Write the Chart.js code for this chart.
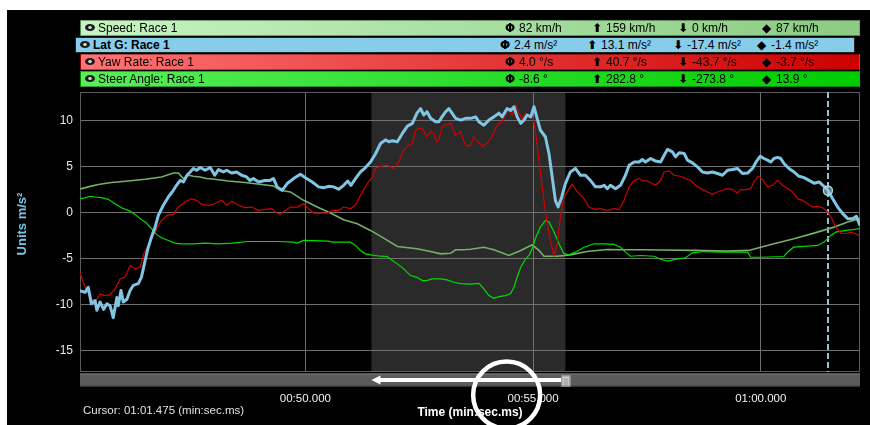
<!DOCTYPE html>
<html>
<head>
<meta charset="utf-8">
<script src="https://cdn.jsdelivr.net/npm/chart.js@4.4.1/dist/chart.umd.min.js"></script>
<style>
  html, body { margin: 0; padding: 0; background: #fff; }
  #wrap { position: relative; width: 870px; height: 425px; overflow: hidden; }
  #panel { position: absolute; left: 7px; top: 10px; width: 863px; height: 415px; background: #000; }
  #chart { position: absolute; left: 0; top: 0; }
  .row { position: absolute; height: 16px; box-sizing: border-box; border: 1px solid rgba(0,0,0,0.35);
         font: 12px "Liberation Sans", Arial, sans-serif; line-height: 14px;
         color: #000; white-space: nowrap; z-index: 2; }
  .row .eye { position: absolute; left: 4px; top: 3px; width: 10px; height: 7px; border-radius: 50%;
              background: radial-gradient(circle, #cfcfcf 0 1.4px, #1c1c1c 2px); }
  .row .name { position: absolute; left: 17px; top: 0; }
  .row .st { position: absolute; top: 0; }
  .row .ic { display: inline-block; width: 14px; font-family: "DejaVu Sans", sans-serif; font-size: 12px; font-weight: bold; }
  #cursorText { position: absolute; left: 83px; top: 404px; color: #e0e0e0; z-index: 2;
                font: 11.5px "Liberation Sans", Arial, sans-serif; }
</style>
</head>
<body>
<div id="wrap">
  <div id="panel"></div>
  <canvas id="chart" width="870" height="425"></canvas>
  <div id="legend"></div>
  <div id="cursorText"></div>
</div>
<script>
// ---- channel list and lap statistics ----
const seriesNames = ['Speed: Race 1', 'Lat G: Race 1', 'Yaw Rate: Race 1', 'Steer Angle: Race 1'];
const cursorStats = ['82 km/h', '2.4 m/s\u00b2', '4.0 \u00b0/s', '-8.6 \u00b0'];
const maxStats    = ['159 km/h', '13.1 m/s\u00b2', '40.7 \u00b0/s', '282.8 \u00b0'];
const minStats    = ['0 km/h', '-17.4 m/s\u00b2', '-43.7 \u00b0/s', '-273.8 \u00b0'];
const avgStats    = ['87 km/h', '-1.4 m/s\u00b2', '-3.7 \u00b0/s', '13.9 \u00b0'];

// ---- axis ticks (seconds / m/s²) ----
const xTickValues = [50, 55, 60];
const yTickValues = [-15, -10, -5, 0, 5, 10];

// ---- cursor and selected range (seconds) ----
const cursorTime = 61.475;
const cursorLatG = 2.4;
const rangeStart = 51.45;
const rangeEnd = 55.71;

// ---- Lat G trace ----
const latGTime = [45.04,45.16,45.23,45.30,45.38,45.42,45.49,45.57,45.64,45.71,45.78,45.86,45.89,45.95,46.00,46.08,46.15,46.22,46.33,46.40,46.48,46.55,46.62,46.70,46.77,46.88,46.99,47.10,47.17,47.25,47.32,47.40,47.47,47.54,47.61,47.69,47.80,47.91,48.01,48.09,48.20,48.27,48.38,48.49,48.60,48.71,48.78,48.86,48.97,49.11,49.22,49.30,49.38,49.49,49.60,49.74,49.89,50.00,50.15,50.29,50.40,50.51,50.62,50.73,50.84,50.93,51.00,51.10,51.21,51.32,51.43,51.54,51.65,51.76,51.83,51.91,52.02,52.13,52.24,52.35,52.45,52.53,52.60,52.67,52.75,52.86,52.93,53.00,53.08,53.15,53.22,53.30,53.41,53.52,53.63,53.74,53.81,53.92,54.03,54.14,54.25,54.32,54.43,54.51,54.58,54.65,54.73,54.80,54.87,54.95,55.02,55.10,55.16,55.27,55.35,55.42,55.49,55.55,55.63,55.71,55.82,55.93,56.04,56.15,56.26,56.37,56.48,56.56,56.63,56.70,56.81,56.92,57.03,57.11,57.22,57.33,57.40,57.47,57.58,57.69,57.80,57.88,57.95,58.06,58.13,58.21,58.32,58.39,58.50,58.61,58.72,58.83,58.94,59.05,59.16,59.27,59.38,59.49,59.60,59.71,59.82,59.91,59.99,60.07,60.15,60.22,60.29,60.37,60.44,60.51,60.62,60.73,60.84,60.95,61.06,61.17,61.28,61.39,61.475,61.58,61.69,61.80,61.91,62.02,62.10,62.18];
const latGValues = [-8.46,-8.65,-8.1,-9.9,-9.55,-10.6,-9.7,-10.5,-9.9,-10.1,-11.4,-9.2,-10.1,-8.46,-9.7,-9.4,-8.46,-7.9,-7.7,-7.0,-5.2,-3.75,-2.65,-1.57,-0.3,0.8,1.7,2.43,2.97,3.5,3.33,4.06,4.42,4.8,4.6,4.9,4.6,4.9,4.06,4.68,4.42,4.6,4.3,4.42,4.06,3.88,3.5,3.7,3.33,3.5,3.5,3.7,2.8,2.43,3.16,3.7,4.17,3.8,3.33,2.8,2.7,2.86,2.8,2.54,2.97,3.44,2.97,3.7,4.42,4.9,5.5,6.4,7.5,7.9,7.7,7.8,7.7,8.6,9.4,9.7,10.8,11.3,10.6,10.96,10.24,9.87,9.87,10.4,10.96,11.3,10.8,10.24,10.05,10.24,10.24,10.4,9.87,9.5,10.05,10.4,10.8,10.4,11.3,11.1,11.5,10.4,9.7,10.05,10.6,10.4,11.5,10.05,8.97,8.24,6.4,3.88,1.34,0.61,1.7,3.16,4.42,4.8,4.06,4.06,3.5,2.8,2.8,2.97,2.6,2.97,2.6,2.97,4.06,5.15,5.5,5.5,5.77,5.5,5.88,5.6,5.5,6.24,6.86,6.6,6.06,6.5,6.42,5.7,5.4,4.97,4.42,4.31,4.42,4.25,4.06,4.6,4.68,4.8,4.25,4.3,4.8,5.6,6.13,5.88,5.7,5.5,5.88,6.0,5.88,5.34,4.8,4.42,3.95,3.8,3.5,3.2,3.33,2.86,2.4,1.52,0.61,-0.1,-0.65,-0.65,-0.4,-1.38];

// ---- Yaw Rate trace ----
const yawTime = [45.04,45.11,45.19,45.30,45.38,45.49,45.60,45.71,45.82,45.93,46.04,46.15,46.26,46.37,46.45,46.55,46.66,46.81,46.96,47.10,47.21,47.36,47.50,47.61,47.72,47.87,48.01,48.16,48.27,48.38,48.53,48.67,48.82,48.97,49.11,49.26,49.34,49.45,49.56,49.67,49.82,49.96,50.07,50.18,50.33,50.48,50.59,50.73,50.84,50.99,51.10,51.21,51.36,51.47,51.54,51.65,51.80,51.94,52.05,52.16,52.27,52.35,52.42,52.49,52.57,52.66,52.75,52.82,52.88,52.93,53.00,53.08,53.19,53.30,53.41,53.48,53.55,53.63,53.70,53.77,53.88,53.99,54.10,54.18,54.25,54.32,54.40,54.47,54.54,54.62,54.69,54.76,54.84,54.91,54.98,55.05,55.13,55.21,55.30,55.38,55.46,55.53,55.60,55.67,55.77,55.86,55.97,56.12,56.23,56.34,56.48,56.63,56.78,56.89,57.00,57.11,57.22,57.33,57.40,57.51,57.62,57.69,57.80,57.88,57.99,58.09,58.24,58.35,58.46,58.57,58.68,58.83,58.94,59.05,59.16,59.27,59.38,59.48,59.56,59.67,59.78,59.85,59.94,60.04,60.15,60.26,60.37,60.48,60.59,60.70,60.81,60.92,61.03,61.14,61.25,61.36,61.47,61.56,61.65,61.76,61.87,61.98,62.09,62.18];
const yawValues = [-6.47,-7.37,-8.46,-9.37,-9.74,-8.82,-9.0,-8.9,-8.28,-7.19,-7.0,-5.74,-6.1,-5.92,-4.47,-3.56,-2.47,-1.02,-0.3,-0.19,0.61,1.15,1.52,1.34,0.9,0.8,0.97,1.34,0.8,1.23,0.8,0.54,0.61,0.25,0.36,0.44,0.07,-0.19,0.25,0.61,0.61,0.97,0.44,-0.04,-0.04,-0.04,0.25,0.25,0.61,0.44,0.8,1.88,3.16,3.88,4.8,5.04,5.15,4.8,5.5,6.79,7.33,7.52,8.97,9.15,9.15,8.24,8.78,8.6,7.69,7.88,9.32,9.5,9.7,8.42,8.78,7.69,7.22,7.33,8.24,7.88,7.22,7.52,8.24,9.15,9.7,9.87,10.8,11.14,10.6,11.7,10.8,10.24,10.8,10.4,10.8,8.97,5.7,2.43,-0.84,-3.02,-4.65,-3.38,-0.48,1.52,2.43,3.08,2.25,1.52,0.61,0.36,0.44,0.25,0.44,0.33,1.34,2.8,3.5,3.7,3.44,3.44,3.16,2.97,3.5,4.42,4.53,4.06,3.95,3.7,3.5,2.97,2.61,2.25,2.0,2.25,2.43,2.61,2.5,2.14,2.5,2.5,2.61,3.33,3.95,3.59,2.8,2.97,3.5,2.97,2.61,2.25,1.52,1.34,0.97,0.61,0.69,0.54,0.07,-0.65,-1.57,-2.22,-2.29,-2.11,-2.29,-2.58];

// ---- Steer Angle trace ----
const steerTime = [45.04,45.15,45.27,45.38,45.52,45.67,45.82,45.96,46.15,46.26,46.37,46.51,46.62,46.73,46.84,46.99,47.14,47.28,47.54,47.80,48.09,48.38,48.75,49.11,49.41,49.74,49.82,49.96,50.51,50.59,50.99,51.10,51.21,51.32,51.43,51.65,51.80,51.91,52.02,52.16,52.31,52.45,52.57,52.67,52.78,52.97,53.11,53.26,53.41,53.63,53.81,53.92,54.03,54.14,54.25,54.40,54.51,54.58,54.65,54.73,54.84,54.91,54.98,55.05,55.16,55.27,55.35,55.46,55.57,55.67,55.78,55.93,56.12,56.34,56.56,56.78,56.92,57.03,57.14,57.36,57.66,57.80,57.95,58.17,58.35,58.50,58.76,59.12,59.71,59.78,60.00,60.51,60.59,60.72,60.95,61.25,61.39,61.54,61.65,61.87,62.02,62.18];
const steerValues = [1.52,1.6,1.78,1.7,1.63,1.45,0.97,0.54,0.17,-0.19,-0.65,-1.13,-1.74,-2.36,-2.72,-3.02,-3.31,-3.38,-3.38,-3.31,-3.38,-3.31,-3.13,-3.13,-3.13,-3.2,-3.31,-3.02,-3.09,-3.2,-3.2,-3.56,-4.1,-4.47,-4.58,-4.73,-4.76,-5.2,-5.56,-6.1,-6.83,-7.02,-7.37,-7.37,-7.19,-7.19,-7.3,-7.56,-7.7,-7.75,-7.67,-8.28,-9.0,-9.3,-9.12,-9.0,-8.76,-8.1,-7.02,-5.93,-5.01,-4.65,-3.92,-2.83,-1.57,-0.84,-1.02,-2.11,-3.38,-4.4,-4.58,-4.29,-3.75,-3.38,-3.38,-3.45,-3.75,-4.29,-4.73,-4.65,-4.73,-5.06,-5.27,-5.01,-4.9,-4.36,-4.22,-4.29,-4.29,-4.84,-4.84,-4.76,-4.29,-3.75,-3.67,-3.56,-3.2,-2.47,-2.11,-1.93,-1.85,-1.74];

// ---- Speed trace ----
const speedTime = [45.04,45.23,45.45,45.74,46.11,46.48,46.84,47.10,47.21,47.32,47.43,47.54,47.69,47.83,48.01,48.31,48.67,49.04,49.30,49.45,49.67,49.96,50.26,50.55,50.84,51.14,51.43,51.72,52.02,52.16,52.45,52.75,52.97,53.19,53.30,53.48,53.63,53.92,54.14,54.47,54.73,54.98,55.13,55.24,55.53,55.82,56.18,56.63,57.07,57.44,57.80,58.53,59.27,59.74,60.00,60.29,60.73,61.17,61.61,61.91,62.18];
const speedValues = [2.54,2.8,3.05,3.27,3.44,3.63,3.88,4.31,4.31,3.7,4.06,3.95,3.88,3.7,3.63,3.44,3.27,3.05,2.9,2.43,2.25,1.34,0.61,-0.04,-0.76,-1.2,-1.93,-2.77,-3.67,-3.75,-3.92,-4.22,-4.47,-4.4,-4.03,-4.03,-3.97,-3.75,-4.03,-4.65,-4.1,-3.49,-4.1,-4.73,-4.73,-4.58,-4.22,-4.0,-4.03,-4.03,-4.05,-4.1,-4.18,-4.1,-3.75,-3.38,-2.83,-2.22,-1.57,-1.02,-0.65];

const toPoints = (xs, ys) => xs.map((x, i) => ({ x, y: ys[i] }));

function fmtTime(t) {
  const m = Math.floor(t / 60);
  const s = t - m * 60;
  return String(m).padStart(2, '0') + ':' + s.toFixed(3).padStart(6, '0');
}

// ---- legend strip ----
const rowLook = [
  { left: 80, top: 20, bg: 'linear-gradient(to right,#c6f4c2,#8bcb82)', bold: false },
  { left: 75, top: 37, bg: '#87cdea', bold: true, border: '1px solid #222' },
  { left: 80, top: 54, bg: 'linear-gradient(to right,#ff7474,#cc0000)', bold: false },
  { left: 80, top: 71, bg: 'linear-gradient(to right,#58ef58,#00cc00)', bold: false }
];
const statIcons = ['\u03A6', '\u2B06', '\u2B07', '\u25C6'];
const statOffsets = [424, 511, 597, 681];
const legend = document.getElementById('legend');
seriesNames.forEach((name, i) => {
  const look = rowLook[i];
  const row = document.createElement('div');
  row.className = 'row';
  row.style.left = look.left + 'px';
  row.style.top = look.top + 'px';
  row.style.width = '780px';
  row.style.background = look.bg;
  if (look.border) row.style.border = look.border;
  row.innerHTML = '<span class="eye"></span><span class="name" style="font-weight:' +
    (look.bold ? 'bold' : 'normal') + '">' + name + '</span>';
  [cursorStats[i], maxStats[i], minStats[i], avgStats[i]].forEach((val, k) => {
    const st = document.createElement('span');
    st.className = 'st';
    st.style.left = statOffsets[k] + 'px';
    st.innerHTML = '<span class="ic">' + statIcons[k] + '</span>' + val;
    row.appendChild(st);
  });
  legend.appendChild(row);
});
document.getElementById('cursorText').textContent = 'Cursor: ' + fmtTime(cursorTime) + ' (min:sec.ms)';

const axisFamily = '"Liberation Sans", Arial, sans-serif';

// ---- plot decorations: selected range, frame, cursor, scroll bar, axis caption ----
const decorations = {
  id: 'decorations',
  beforeDraw(chart) {
    const { ctx, chartArea: a, scales: { x } } = chart;
    ctx.save();
    ctx.fillStyle = '#2a2a2a';
    const x0 = x.getPixelForValue(rangeStart), x1 = x.getPixelForValue(rangeEnd);
    ctx.fillRect(x0, a.top, x1 - x0, a.bottom - a.top);
    ctx.restore();
  },
  beforeDatasetsDraw(chart) {
    const { ctx, chartArea: a, scales: { x } } = chart;
    ctx.save();
    ctx.strokeStyle = '#5c5c5c';
    ctx.lineWidth = 1;
    ctx.strokeRect(a.left + 0.5, a.top + 0.5, a.right - a.left - 1, a.bottom - a.top - 1);
    const cx = Math.round(x.getPixelForValue(cursorTime));
    ctx.strokeStyle = '#8fc2d6';
    ctx.lineWidth = 2;
    ctx.setLineDash([6, 3]);
    ctx.beginPath();
    ctx.moveTo(cx, a.top);
    ctx.lineTo(cx, a.bottom);
    ctx.stroke();
    ctx.restore();
  },
  afterDraw(chart) {
    const { ctx, chartArea: a, scales: { x } } = chart;
    ctx.save();
    // vertical caption of the value axis
    ctx.save();
    ctx.translate(22, 224);
    ctx.rotate(-Math.PI / 2);
    ctx.fillStyle = '#7cc4e4';
    ctx.font = 'bold 13px ' + axisFamily;
    ctx.textAlign = 'center';
    ctx.textBaseline = 'middle';
    ctx.fillText('Units m/s\u00b2', 0, 0);
    ctx.restore();
    // scroll bar
    const top = a.bottom + 1.5, h = 13;
    ctx.fillStyle = '#5b5b5b';
    ctx.fillRect(a.left, top, a.right - a.left, h);
    ctx.fillStyle = '#7a7a7a';
    ctx.fillRect(a.left, top, a.right - a.left, 1);
    ctx.fillStyle = '#3c3c3c';
    ctx.fillRect(a.left, top + h - 1, a.right - a.left, 1);
    // selection arrow
    const x0 = x.getPixelForValue(rangeStart), x1 = x.getPixelForValue(rangeEnd);
    const my = top + h / 2;
    ctx.strokeStyle = '#fff';
    ctx.lineWidth = 4;
    ctx.beginPath();
    ctx.moveTo(x0 + 6, my);
    ctx.lineTo(x1 - 4, my);
    ctx.stroke();
    ctx.fillStyle = '#fff';
    ctx.beginPath();
    ctx.moveTo(x0, my);
    ctx.lineTo(x0 + 9, my - 4.5);
    ctx.lineTo(x0 + 9, my + 4.5);
    ctx.closePath();
    ctx.fill();
    // handle
    ctx.fillStyle = '#d6d6d6';
    ctx.fillRect(x1 - 4, top + 2, 9, h - 2);
    ctx.strokeStyle = '#8a8a8a';
    ctx.lineWidth = 1;
    ctx.strokeRect(x1 - 3.5, top + 2.5, 8, h - 3);
    for (let k = 0; k < 4; k++) {
      ctx.beginPath();
      ctx.moveTo(x1 - 2, top + 5 + k * 2 + 0.5);
      ctx.lineTo(x1 + 3, top + 5 + k * 2 + 0.5);
      ctx.stroke();
    }
    // highlight ring around the time readout
    ctx.strokeStyle = '#fff';
    ctx.lineWidth = 4.5;
    ctx.beginPath();
    ctx.arc(x.getPixelForValue(54.42), 395, 33.5, 0, Math.PI * 2);
    ctx.stroke();
    ctx.restore();
  }
};

new Chart(document.getElementById('chart'), {
  type: 'line',
  data: {
    datasets: [
      { label: 'Cursor', type: 'scatter', data: [{ x: cursorTime, y: cursorLatG }],
        pointRadius: 4.5, pointBackgroundColor: 'rgba(160,205,225,0.55)', pointBorderColor: '#a9d5e8',
        pointBorderWidth: 1.5, showLine: false },
      { label: 'Lat G', data: toPoints(latGTime, latGValues), borderColor: '#80c5e3', borderWidth: 3,
        pointRadius: 0, tension: 0, borderJoinStyle: 'round' },
      { label: 'Yaw Rate', data: toPoints(yawTime, yawValues), borderColor: '#d20000', borderWidth: 1.2,
        pointRadius: 0, tension: 0 },
      { label: 'Steer Angle', data: toPoints(steerTime, steerValues), borderColor: '#00dc00', borderWidth: 1.2,
        pointRadius: 0, tension: 0 },
      { label: 'Speed', data: toPoints(speedTime, speedValues), borderColor: '#74b067', borderWidth: 1.6,
        pointRadius: 0, tension: 0 }
    ]
  },
  options: {
    responsive: false,
    animation: false,
    events: [],
    layout: { padding: { left: 7, top: 92, right: 10, bottom: 0 } },
    plugins: { legend: { display: false }, tooltip: { enabled: false } },
    scales: {
      x: {
        type: 'linear', min: 45.05, max: 62.18,
        afterBuildTicks: s => { s.ticks = xTickValues.map(v => ({ value: v })); },
        afterFit: s => { s.height = 53; },
        ticks: { callback: v => fmtTime(v), color: '#f0f0f0', font: { family: axisFamily, size: 11.5 },
                 padding: 20, maxRotation: 0 },
        grid: { color: '#707070', lineWidth: 1, drawTicks: false },
        border: { display: false },
        title: { display: true, text: 'Time (min:sec.ms)', color: '#ffffff',
                 font: { family: axisFamily, size: 12, weight: 'bold' }, padding: { top: 0, bottom: 5 } }
      },
      y: {
        min: -17.3, max: 13.1,
        afterBuildTicks: s => { s.ticks = yTickValues.map(v => ({ value: v })); },
        afterFit: s => { s.width = 73; },
        ticks: { color: '#e6e6e6', font: { family: axisFamily, size: 12 }, padding: 7 },
        grid: { color: '#707070', lineWidth: 1, drawTicks: false },
        border: { display: false },
        title: { display: false }
      }
    }
  },
  plugins: [decorations]
});
</script>
</body>
</html>
